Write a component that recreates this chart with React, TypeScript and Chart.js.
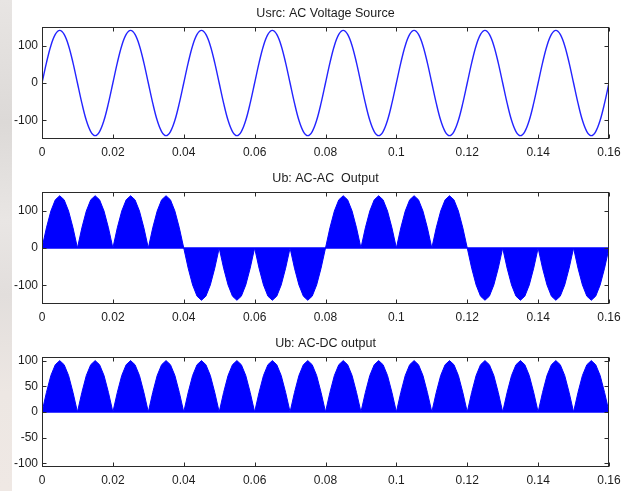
import React, { useEffect, useRef } from "react";
import { Chart, registerables } from "chart.js";

Chart.register(...registerables);

// time step between samples (s)
const SAMPLE_STEP = 0.00125;

const xTickValues = [0, 0.02, 0.04, 0.06, 0.08, 0.1, 0.12, 0.14, 0.16];
const xTickLabels = ["0", "0.02", "0.04", "0.06", "0.08", "0.1", "0.12", "0.14", "0.16"];
const acTickValues = [-100, 0, 100];
const dcTickValues = [-100, -50, 0, 50, 100];

const titles = ["Usrc: AC Voltage Source", "Ub: AC-AC  Output", "Ub: AC-DC output"];

// Usrc: AC source voltage samples
const usrcValues = [
  0, 54, 100, 130, 141, 130, 100, 54, 0, -54, -100, -130, -141, -130, -100, -54,
  0, 54, 100, 130, 141, 130, 100, 54, 0, -54, -100, -130, -141, -130, -100, -54,
  0, 54, 100, 130, 141, 130, 100, 54, 0, -54, -100, -130, -141, -130, -100, -54,
  0, 54, 100, 130, 141, 130, 100, 54, 0, -54, -100, -130, -141, -130, -100, -54,
  0, 54, 100, 130, 141, 130, 100, 54, 0, -54, -100, -130, -141, -130, -100, -54,
  0, 54, 100, 130, 141, 130, 100, 54, 0, -54, -100, -130, -141, -130, -100, -54,
  0, 54, 100, 130, 141, 130, 100, 54, 0, -54, -100, -130, -141, -130, -100, -54,
  0, 54, 100, 130, 141, 130, 100, 54, 0, -54, -100, -130, -141, -130, -100, -54,
  0,
];

// Ub: AC-AC output envelope samples
const ubAcAcValues = [
  0, 54, 99, 129, 140, 129, 99, 54, 0, 54, 99, 129, 140, 129, 99, 54,
  0, 54, 99, 129, 140, 129, 99, 54, 0, 54, 99, 129, 140, 129, 99, 54,
  0, -54, -99, -129, -140, -129, -99, -54, 0, -54, -99, -129, -140, -129, -99, -54,
  0, -54, -99, -129, -140, -129, -99, -54, 0, -54, -99, -129, -140, -129, -99, -54,
  0, 54, 99, 129, 140, 129, 99, 54, 0, 54, 99, 129, 140, 129, 99, 54,
  0, 54, 99, 129, 140, 129, 99, 54, 0, 54, 99, 129, 140, 129, 99, 54,
  0, -54, -99, -129, -140, -129, -99, -54, 0, -54, -99, -129, -140, -129, -99, -54,
  0, -54, -99, -129, -140, -129, -99, -54, 0, -54, -99, -129, -140, -129, -99, -54,
  0,
];

// Ub: AC-DC output envelope samples
const ubAcDcValues = [
  0, 38, 71, 92, 100, 92, 71, 38, 0, 38, 71, 92, 100, 92, 71, 38,
  0, 38, 71, 92, 100, 92, 71, 38, 0, 38, 71, 92, 100, 92, 71, 38,
  0, 38, 71, 92, 100, 92, 71, 38, 0, 38, 71, 92, 100, 92, 71, 38,
  0, 38, 71, 92, 100, 92, 71, 38, 0, 38, 71, 92, 100, 92, 71, 38,
  0, 38, 71, 92, 100, 92, 71, 38, 0, 38, 71, 92, 100, 92, 71, 38,
  0, 38, 71, 92, 100, 92, 71, 38, 0, 38, 71, 92, 100, 92, 71, 38,
  0, 38, 71, 92, 100, 92, 71, 38, 0, 38, 71, 92, 100, 92, 71, 38,
  0, 38, 71, 92, 100, 92, 71, 38, 0, 38, 71, 92, 100, 92, 71, 38,
  0,
];

const FONT = "Arial, 'Liberation Sans', Helvetica, sans-serif";
const TEXT = "#1c1c1c";
const FRAME = "#2a2a2a";

const framePlugin = {
  id: "matlabFrame",
  beforeDatasetsDraw(chart: any, _args: any, opts: any) {
    if (!opts || !opts.zeroLine) return;
    const { ctx, chartArea } = chart;
    const y = chart.scales.y.getPixelForValue(0);
    ctx.save();
    ctx.strokeStyle = "#0000ff";
    ctx.lineWidth = 1.5;
    ctx.beginPath();
    ctx.moveTo(chartArea.left, y);
    ctx.lineTo(chartArea.right, y);
    ctx.stroke();
    ctx.restore();
  },
  afterDatasetsDraw(chart: any) {
    const { ctx, chartArea } = chart;
    const { left, right, top, bottom } = chartArea;
    const L = Math.round(left) + 0.5;
    const R = Math.round(right) - 0.5;
    const T = Math.round(top) + 0.5;
    const B = Math.round(bottom) - 0.5;
    ctx.save();
    ctx.strokeStyle = FRAME;
    ctx.lineWidth = 1;
    ctx.strokeRect(L, T, R - L, B - T);
    const tl = 4;
    ctx.beginPath();
    for (const t of chart.scales.x.ticks) {
      const px = Math.round(chart.scales.x.getPixelForValue(t.value)) + 0.5;
      ctx.moveTo(px, B);
      ctx.lineTo(px, B - tl);
      ctx.moveTo(px, T);
      ctx.lineTo(px, T + tl);
    }
    for (const t of chart.scales.y.ticks) {
      const py = Math.round(chart.scales.y.getPixelForValue(t.value)) + 0.5;
      ctx.moveTo(L, py);
      ctx.lineTo(L + tl, py);
      ctx.moveTo(R, py);
      ctx.lineTo(R - tl, py);
    }
    ctx.stroke();
    ctx.restore();
  },
};

type PlotProps = {
  top: number;
  height: number;
  xAxisHeight: number;
  title: string;
  values: number[];
  yMin: number;
  yMax: number;
  yTicks: number[];
  filled: boolean;
};

function Plot(props: PlotProps) {
  const ref = useRef<HTMLCanvasElement | null>(null);
  useEffect(() => {
    if (!ref.current) return;
    const points = props.values.map((v, i) => ({ x: i * SAMPLE_STEP, y: v }));
    const chart = new Chart(ref.current, {
      type: "line",
      data: {
        datasets: [
          {
            data: points,
            borderColor: props.filled ? "#0000ff" : "#2424ff",
            backgroundColor: "#0000ff",
            borderWidth: props.filled ? 1 : 1.4,
            pointRadius: 0,
            fill: props.filled ? "origin" : false,
            tension: props.filled ? 0 : 0.35,
          },
        ],
      },
      options: {
        responsive: false,
        animation: false,
        devicePixelRatio: 1,
        layout: { padding: { left: 0, right: 28, top: 0, bottom: 0 } },
        plugins: {
          legend: { display: false },
          tooltip: { enabled: false },
          title: {
            display: true,
            text: props.title,
            fullSize: false,
            color: TEXT,
            font: { family: FONT, size: 12.5, weight: "normal", lineHeight: 1 },
            padding: { top: 7, bottom: 7.5 },
          },
          matlabFrame: { zeroLine: props.filled },
        } as any,
        scales: {
          x: {
            type: "linear",
            min: 0,
            max: 0.16,
            grid: { display: false, drawTicks: false },
            border: { display: false },
            afterBuildTicks: (scale: any) => {
              scale.ticks = xTickValues.map((v) => ({ value: v }));
            },
            afterFit: (scale: any) => {
              scale.height = props.xAxisHeight;
              scale.paddingLeft = 0;
              scale.paddingRight = 0;
            },
            ticks: {
              color: TEXT,
              padding: 6,
              maxRotation: 0,
              autoSkip: false,
              font: { family: FONT, size: 12 },
              callback: (_v: any, i: number) => xTickLabels[i],
            },
          },
          y: {
            type: "linear",
            min: props.yMin,
            max: props.yMax,
            grid: { display: false, drawTicks: false },
            border: { display: false },
            afterBuildTicks: (scale: any) => {
              scale.ticks = props.yTicks.map((v) => ({ value: v }));
            },
            afterFit: (scale: any) => {
              scale.width = 42;
              scale.paddingTop = 0;
              scale.paddingBottom = 0;
            },
            ticks: {
              color: TEXT,
              padding: 4,
              autoSkip: false,
              font: { family: FONT, size: 12 },
              callback: (v: any) => String(v),
            },
          },
        },
      },
      plugins: [framePlugin],
    } as any);
    return () => chart.destroy();
  }, []);
  return (
    <canvas
      ref={ref}
      width={637}
      height={props.height}
      style={{ position: "absolute", left: 0, top: props.top, width: 637, height: props.height }}
    />
  );
}

export default function App() {
  return (
    <div
      style={{
        position: "absolute",
        left: 0,
        top: 0,
        width: 637,
        height: 491,
        background: "#ffffff",
        overflow: "hidden",
      }}
    >
      <div
        style={{
          position: "absolute",
          left: 0,
          top: 0,
          width: 12,
          height: 491,
          background:
            "linear-gradient(to bottom, #e8e5e3 0%, #dcd9d7 25%, #e9e6e4 45%, #e2dedc 60%, #ede7e3 80%, #efe8e4 100%)",
        }}
      />
      <Plot top={0} height={165} xAxisHeight={26} title={titles[0]} values={usrcValues} yMin={-150} yMax={150} yTicks={acTickValues} filled={false} />
      <Plot top={165} height={165} xAxisHeight={26} title={titles[1]} values={ubAcAcValues} yMin={-150} yMax={150} yTicks={acTickValues} filled={true} />
      <Plot top={330} height={161} xAxisHeight={24} title={titles[2]} values={ubAcDcValues} yMin={-107} yMax={107} yTicks={dcTickValues} filled={true} />
    </div>
  );
}
